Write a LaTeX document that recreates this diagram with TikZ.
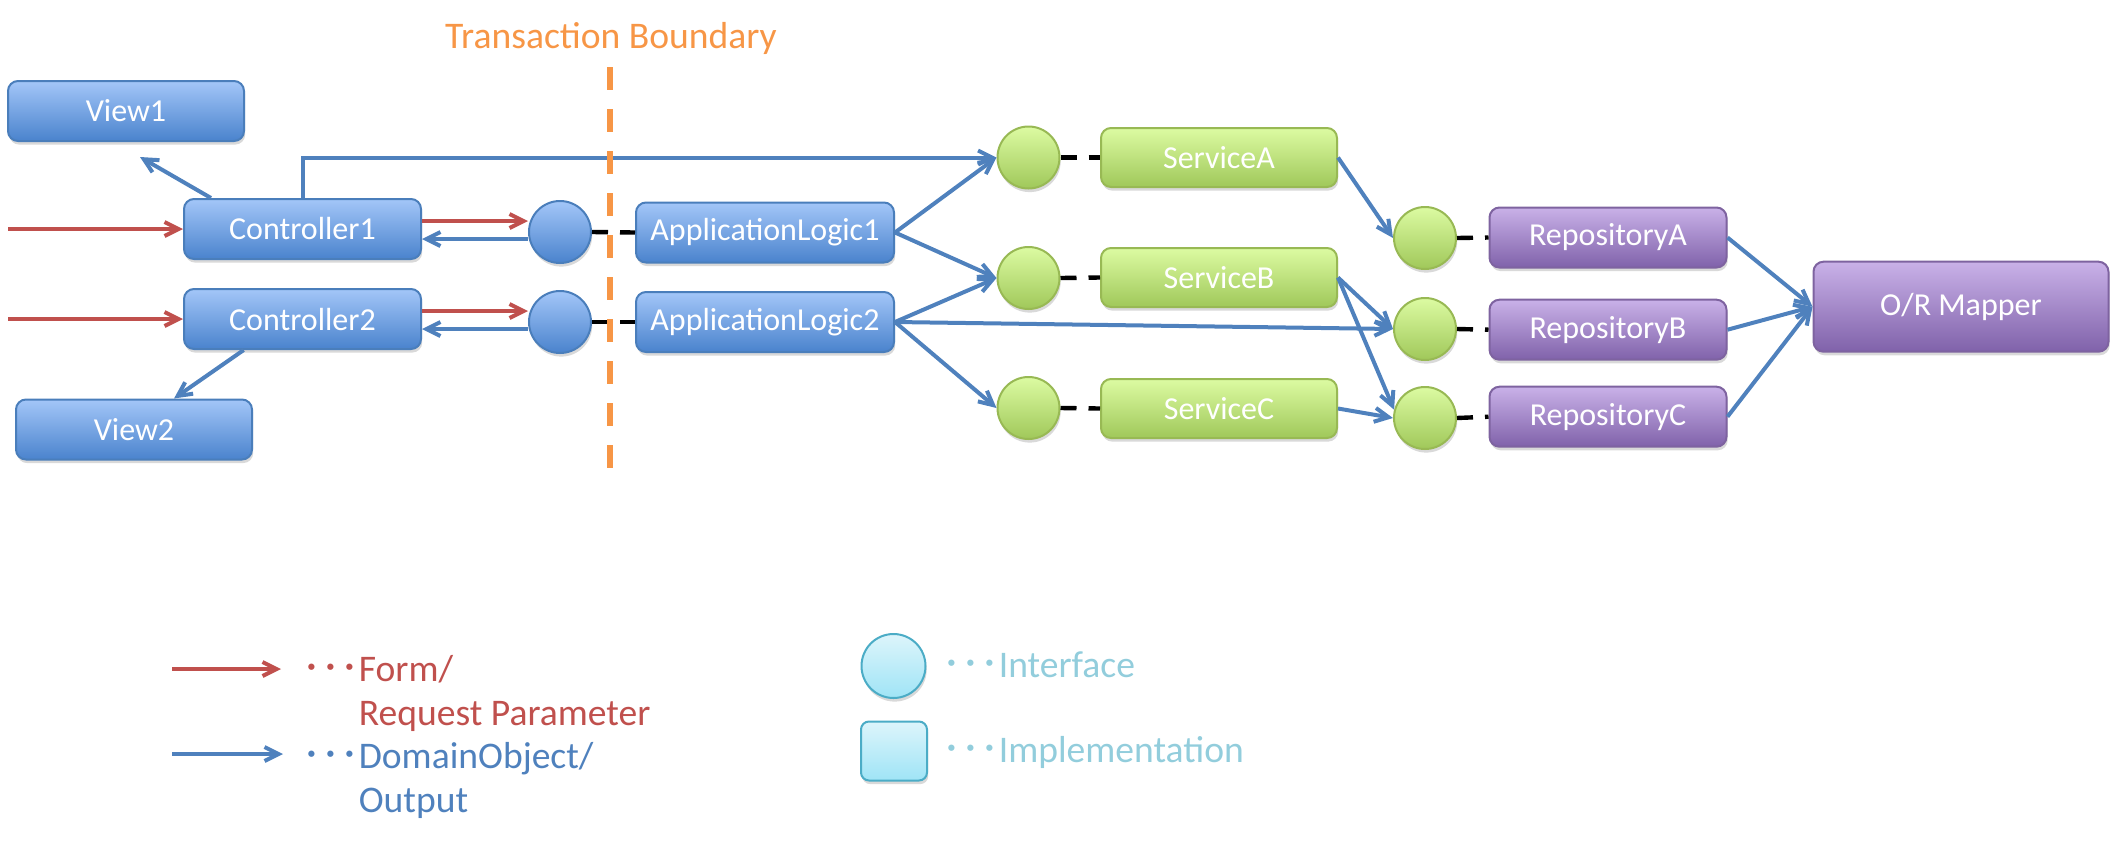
\documentclass[tikz,border=0pt]{standalone}
\usepackage{fontspec}
\setmainfont{Carlito}
\newfontfamily\cjkdots{Noto Sans CJK JP}
\usetikzlibrary{arrows.meta,shadows,calc}
\definecolor{blueline}{HTML}{4F81BD}
\definecolor{redline}{HTML}{C0504D}
\definecolor{orangeb}{HTML}{F79646}
\definecolor{bluetop}{HTML}{A3C6F8}
\definecolor{bluebot}{HTML}{4A83CD}
\definecolor{blueborder}{HTML}{4A7EBB}
\definecolor{greentop}{HTML}{DCFBA2}
\definecolor{greenbot}{HTML}{A0C85A}
\definecolor{greenborder}{HTML}{98B954}
\definecolor{purptop}{HTML}{C9B1E8}
\definecolor{purpbot}{HTML}{8062AA}
\definecolor{purpborder}{HTML}{7E63A0}
\definecolor{cyantop}{HTML}{DDF5FB}
\definecolor{cyanbot}{HTML}{9FE4F6}
\definecolor{cyanborder}{HTML}{4BACC6}
\definecolor{tealtext}{HTML}{92CDDC}
\begin{document}
\begin{tikzpicture}[x=0.5pt,y=-0.5pt,
  shadowed/.style={drop shadow={opacity=0.3,shadow xshift=0.6pt,shadow yshift=-1.8pt}},
  box/.style={rectangle, rounded corners=5pt, line width=1pt, minimum height=30pt, inner sep=0pt,
    text=white, font=\fontsize{16}{19}\selectfont, shadowed},
  bluebox/.style={box, draw=blueborder, top color=bluetop, bottom color=bluebot},
  greenbox/.style={box, draw=greenborder, top color=greentop, bottom color=greenbot, minimum height=29.5pt},
  purpbox/.style={box, draw=purpborder, top color=purptop, bottom color=purpbot},
  iface/.style={circle, minimum size=31pt, inner sep=0pt, line width=1pt, shadowed},
  blueif/.style={iface, draw=blueborder, top color=bluetop, bottom color=bluebot},
  greenif/.style={iface, draw=greenborder, top color=greentop, bottom color=greenbot},
  flow/.style={draw=blueline, line width=2pt, -{Straight Barb[length=7pt,width=7pt]}},
  req/.style={flow, draw=redline},
  link/.style={draw=black, line width=2.2pt, dash pattern=on 8pt off 6pt},
  legendfont/.style={font=\fontsize{18.8}{22}\selectfont},
]
\useasboundingbox (0,0) rectangle (2117,853);

% presentation layer
\node[bluebox, minimum width=118pt] (view1) at (126,111) {View1};
\node[bluebox, minimum width=118.5pt] (ctrl1) at (302.5,229) {Controller1};
\node[bluebox, minimum width=118.5pt] (ctrl2) at (302.5,319) {Controller2};
\node[bluebox, minimum width=118pt] (view2) at (134,429.5) {View2};

% application layer
\node[blueif] (if1) at (560,232) {};
\node[blueif] (if2) at (560,322) {};
\node[bluebox, minimum width=129pt] (al1) at (765,232.5) {ApplicationLogic1};
\node[bluebox, minimum width=129pt] (al2) at (765,322) {ApplicationLogic2};

% services
\node[greenif] (sai) at (1028.5,157.5) {};
\node[greenif] (sbi) at (1028.5,278) {};
\node[greenif] (sci) at (1028.5,408) {};
\node[greenbox, minimum width=118pt] (sa) at (1219,157.5) {ServiceA};
\node[greenbox, minimum width=118pt] (sb) at (1219,277.5) {ServiceB};
\node[greenbox, minimum width=118pt] (sc) at (1219,408.5) {ServiceC};

% repositories
\node[greenif] (rai) at (1425,238) {};
\node[greenif] (rbi) at (1425,329) {};
\node[greenif] (rci) at (1425,418) {};
\node[purpbox, minimum width=118.5pt] (ra) at (1608,237.5) {RepositoryA};
\node[purpbox, minimum width=118.5pt] (rb) at (1608,329.7) {RepositoryB};
\node[purpbox, minimum width=118.5pt] (rc) at (1608,416.7) {RepositoryC};
\node[purpbox, minimum width=147.5pt, minimum height=45pt] (orm) at (1961,306.7) {O/R Mapper};

% interface-implementation links
\draw[link] (if1.east) -- (al1.west);
\draw[link] (if2.east) -- (al2.west);
\draw[link] (sai.east) -- (sa.west);
\draw[link] (sbi.east) -- (sb.west);
\draw[link] (sci.east) -- (sc.west);
\draw[link] (rai.east) -- (ra.west);
\draw[link] (rbi.east) -- (rb.west);
\draw[link] (rci.east) -- (rc.west);

% requests
\coordinate (in1) at (8,229);
\coordinate (in2) at (8,319);
\draw[req] (in1) -- (ctrl1.west);
\draw[req] (in2) -- (ctrl2.west);
\draw[req] ([yshift=4pt]ctrl1.east) -- ([yshift=4pt]ctrl1.east -| if1.west);
\draw[req] ([yshift=4pt]ctrl2.east) -- ([yshift=4pt]ctrl2.east -| if2.west);
\draw[flow] ([yshift=-5pt]ctrl1.east -| if1.west) -- ([yshift=-5pt]ctrl1.east);
\draw[flow] ([yshift=-5pt]ctrl2.east -| if2.west) -- ([yshift=-5pt]ctrl2.east);

% outputs
\coordinate (v1tip) at (140,157);
\draw[flow] ([xshift=-45.75pt]ctrl1.north) -- (v1tip);
\draw[flow] ([xshift=-29.4pt]ctrl2.south) -- ([xshift=20pt]view2.north);
\draw[flow] (ctrl1.north) |- (sai.west);

% domain flows
\draw[flow] (al1.east) -- (sai.west);
\draw[flow] (al1.east) -- (sbi.west);
\draw[flow] (al2.east) -- (sbi.west);
\draw[flow] (al2.east) -- (rbi.west);
\draw[flow] (al2.east) -- (sci.west);
\draw[flow] (sa.east) -- (rai.west);
\draw[flow] (sb.east) -- (rbi.west);
\draw[flow] (sb.east) -- (rci.165);
\draw[flow] (sc.east) -- (rci.west);
\draw[flow] (ra.east) -- (orm.west);
\draw[flow] (rb.east) -- (orm.west);
\draw[flow] (rc.east) -- (orm.west);

% transaction boundary
\coordinate (tb1) at (610,67);
\coordinate (tb2) at (610,468);
\draw[orangeb, line width=3pt, dash pattern=on 11.5pt off 9.5pt] (tb1) -- (tb2);
\node[anchor=base, text=orangeb, legendfont, inner sep=0pt] (tblabel) at (611,48) {Transaction Boundary};

% legend
\coordinate (lr1) at (172,669);
\coordinate (lr2) at (281,669);
\draw[req] (lr1) -- (lr2);
\node[anchor=base west, align=left, text=redline, legendfont, inner sep=0pt] (lreq) at (302,725)
  {{\cjkdots ･･･}Form/\\\phantom{\cjkdots ･･･}Request Parameter};
\coordinate (lb1) at (172,754);
\coordinate (lb2) at (283,754);
\draw[flow] (lb1) -- (lb2);
\node[anchor=base west, align=left, text=blueline, legendfont, inner sep=0pt] (lout) at (302,812)
  {{\cjkdots ･･･}DomainObject/\\\phantom{\cjkdots ･･･}Output};

\node[iface, minimum size=32pt, draw=cyanborder, top color=cyantop, bottom color=cyanbot] (lif) at (893.5,666) {};
\node[rectangle, rounded corners=4pt, line width=1pt, shadowed, minimum width=33pt, minimum height=29.5pt,
  draw=cyanborder, top color=cyantop, bottom color=cyanbot] (limp) at (894,751) {};
\node[anchor=base west, text=tealtext, legendfont, inner sep=0pt] (liftext) at (942,677) {{\cjkdots ･･･}Interface};
\node[anchor=base west, text=tealtext, legendfont, inner sep=0pt] (limptext) at (942,762) {{\cjkdots ･･･}Implementation};
\end{tikzpicture}
\end{document}
